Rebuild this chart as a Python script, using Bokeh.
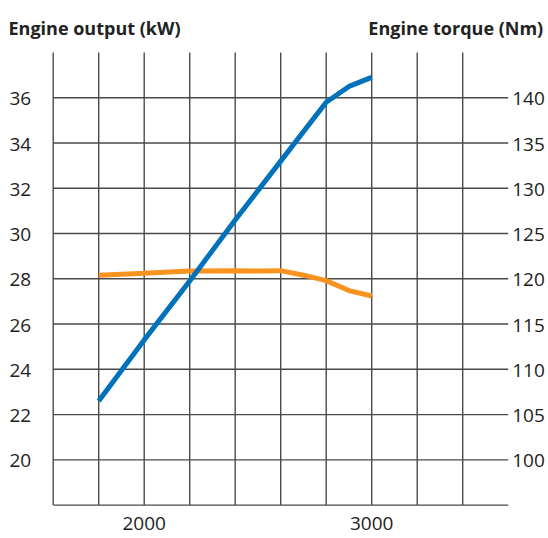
from bokeh.plotting import figure
from bokeh.models import Range1d
from bokeh.core.properties import value
from bokeh.embed import file_html
from bokeh.resources import INLINE

# ---------------- data ----------------
rpm_power = [1800, 2000, 2200, 2400, 2600, 2800, 2900, 3000]
power_kw = [22.6, 25.3, 27.9, 30.6, 33.2, 35.8, 36.5, 36.9]

rpm_torque = [1800, 1900, 2000, 2200, 2400, 2500, 2600, 2700, 2800, 2900, 3000]
torque_nm = [120.4, 120.5, 120.6, 120.85, 120.9, 120.85, 120.9, 120.4, 119.8, 118.7, 118.1]

left_ticks = [20, 22, 24, 26, 28, 30, 32, 34, 36]
right_ticks = [100, 105, 110, 115, 120, 125, 130, 135, 140]
x_ticks = [2000, 3000]
x_grid = [1600, 1800, 2000, 2200, 2400, 2600, 2800, 3000, 3200, 3400]
y_grid = [18, 20, 22, 24, 26, 28, 30, 32, 34, 36]

title_left = "Engine output (kW)"
title_right = "Engine torque (Nm)"

# ---------------- layout / style ----------------
X0, X1 = 1600, 3600          # plotting area (rpm)
Y0, Y1 = 18, 38              # plotting area (kW)
W, H = 546, 538
FRAME_L, FRAME_R = 52.7, 507.7          # canvas px of X0, X1
FRAME_B, FRAME_T = H - 504.6, H - 52.0  # canvas px (from bottom) of Y0, Y1
sx = (FRAME_R - FRAME_L) / (X1 - X0)
sy = (FRAME_T - FRAME_B) / (Y1 - Y0)
x_start = X0 - FRAME_L / sx
x_end = X1 + (W - FRAME_R) / sx
y_start = Y0 - FRAME_B / sy
y_end = Y1 + (H - FRAME_T) / sy

def kw_to_nm(v):
    return 100 + (v - 20) * 2.5

FONT = "Open Sans"
TXT = "#222222"
GRID = "#4a4a4a"

p = figure(width=W, height=H, output_backend="svg", toolbar_location=None,
           x_range=Range1d(x_start, x_end), y_range=Range1d(y_start, y_end),
           x_axis_type=None, y_axis_type=None,
           min_border_left=0, min_border_right=0, min_border_top=0, min_border_bottom=0)
p.outline_line_color = None
p.background_fill_color = "white"
p.border_fill_color = "white"
p.extra_y_ranges = {"torque": Range1d(kw_to_nm(y_start), kw_to_nm(y_end))}

# grid
p.segment(x0=x_grid, y0=[Y0] * len(x_grid), x1=x_grid, y1=[Y1] * len(x_grid),
          line_color=GRID, line_width=1.4)
p.segment(x0=[X0] * len(y_grid), y0=y_grid, x1=[X1] * len(y_grid), y1=y_grid,
          line_color=GRID, line_width=1.4)

# tick labels
tick_style = dict(text_font=value(FONT), text_font_size=value("19px"), text_color=TXT)
p.text(x=[X0] * len(left_ticks), y=left_ticks, text=[str(t) for t in left_ticks],
       x_offset=-22, y_offset=1, text_align="right", text_baseline="middle", **tick_style)
p.text(x=[X1] * len(right_ticks), y=right_ticks, text=[str(t) for t in right_ticks],
       y_range_name="torque", x_offset=4, y_offset=1,
       text_align="left", text_baseline="middle", **tick_style)
p.text(x=x_ticks, y=[Y0] * len(x_ticks), text=[str(t) for t in x_ticks],
       y_offset=18, text_align="center", text_baseline="middle", **tick_style)

# data lines
p.line(rpm_torque, torque_nm, y_range_name="torque", line_color="#f7931e", line_width=5)
p.line(rpm_power, power_kw, line_color="#0072bc", line_width=5)

# axis titles
title_style = dict(text_font=value(FONT), text_font_size=value("18px"),
                   text_font_style="bold", text_color=TXT, text_baseline="alphabetic")
p.text(x=[X0], y=[Y1], text=[title_left], x_offset=-44.7, y_offset=-25,
       text_align="left", **title_style)
p.text(x=[X1], y=[Y1], text=[title_right], x_offset=35, y_offset=-25,
       text_align="right", **title_style)

open("out.html", "w").write(file_html(p, INLINE))
